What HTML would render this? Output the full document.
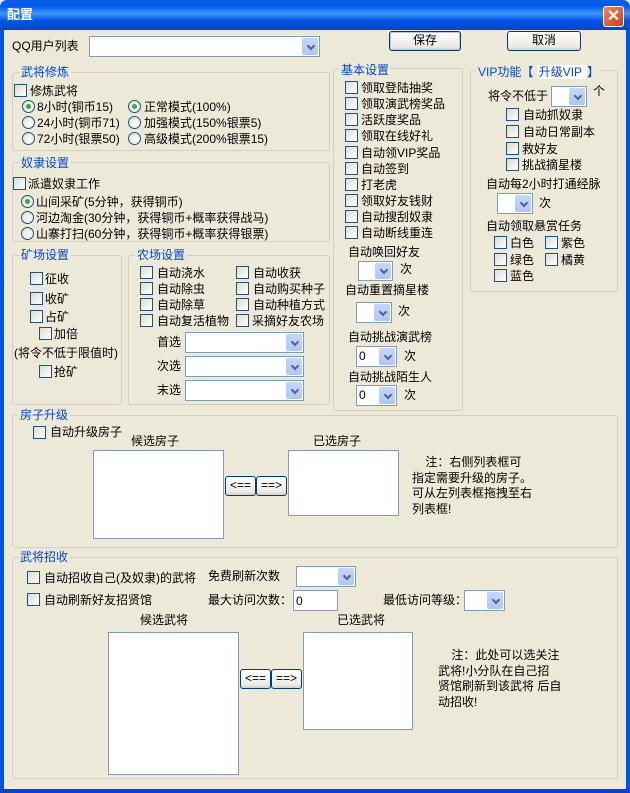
<!DOCTYPE html>
<html><head><meta charset="utf-8"><style>
*{margin:0;padding:0;box-sizing:border-box}
body{width:630px;height:793px;overflow:hidden;background:#ECE9D8;position:relative;font:12px "Liberation Sans","WenQuanYi Zen Hei","Noto Sans CJK SC",sans-serif;color:#000}
div,span{position:absolute}
.t{white-space:nowrap;line-height:14px}
.cb{width:13px;height:13px;border:1px solid #1c5180;background:linear-gradient(135deg,#dcdcd3,#fff)}
.rb{width:13px;height:13px;border:1px solid #1c5180;border-radius:50%;background:radial-gradient(circle at 60% 60%,#fff,#d8d8cf)}
.rb.on::after{content:"";position:absolute;left:3px;top:3px;width:5px;height:5px;border-radius:50%;background:#3ca63c}
.g{border:1px solid #d0d0bf;border-radius:3px}
.gl{background:#ECE9D8;color:#0046d5;padding:0 2px;line-height:14px;white-space:nowrap}
.co{background:#fff;border:1px solid #7f9db9}
.co::after{content:"";position:absolute;right:1px;top:1px;bottom:1px;width:16px;background:linear-gradient(#c6d6fc,#b0c6f6);border-radius:2px}
.co::before{content:"";position:absolute;right:5px;top:50%;margin-top:-4px;width:4px;height:4px;border-right:2px solid #4d6185;border-bottom:2px solid #4d6185;transform:rotate(45deg);z-index:2}
.lb{background:#fff;border:1px solid #7f9db9}
.bt{border:1px solid #003c74;border-radius:3px;background:linear-gradient(#fff,#ecebe6 80%,#d6d0c5);text-align:center;line-height:17px}
</style></head><body>
<!-- title bar -->
<div style="left:0;top:0;width:630px;height:30px;background:linear-gradient(#0a5fe0,#0058ee 20%,#3d95ff 45%,#0054e3 70%,#0046c8);border-radius:7px 7px 0 0"></div>
<div class="t" style="left:7px;top:8px;color:#fff;font-weight:bold;font-size:13px">配置</div>
<div style="left:603px;top:6px;width:21px;height:21px;border:1px solid #fff;border-radius:3px;background:linear-gradient(135deg,#e8876a,#d03f12);color:#fff;font-weight:bold;font-size:16px;text-align:center;line-height:19px">✕</div>
<div style="left:0;top:30px;width:4px;height:763px;background:#0055e5"></div>
<div style="left:626px;top:30px;width:4px;height:763px;background:#0055e5"></div>
<div style="left:0;top:789px;width:630px;height:4px;background:#0044cc"></div>

<div class="t" style="left:12px;top:39px">QQ用户列表</div>
<div class="co" style="left:89px;top:36px;width:231px;height:21px"></div>
<div class="bt" style="left:389px;top:31px;width:72px;height:20px;box-shadow:inset 0 0 0 1px #b5c9f0">保存</div>
<div class="bt" style="left:507px;top:31px;width:74px;height:20px">取消</div>

<!-- 武将修炼 -->
<div class="g" style="left:12px;top:72px;width:318px;height:79px"></div>
<div class="gl" style="left:19px;top:65px">武将修炼</div>
<div class="cb" style="left:14px;top:84px"></div><div class="t" style="left:30px;top:84px">修炼武将</div>
<div class="rb on" style="left:22px;top:100px"></div><div class="t" style="left:37px;top:100px">8小时(铜币15)</div>
<div class="rb" style="left:22px;top:116px"></div><div class="t" style="left:37px;top:116px">24小时(铜币71)</div>
<div class="rb" style="left:22px;top:132px"></div><div class="t" style="left:37px;top:132px">72小时(银票50)</div>
<div class="rb on" style="left:128px;top:100px"></div><div class="t" style="left:144px;top:100px">正常模式(100%)</div>
<div class="rb" style="left:128px;top:116px"></div><div class="t" style="left:144px;top:116px">加强模式(150%银票5)</div>
<div class="rb" style="left:128px;top:132px"></div><div class="t" style="left:144px;top:132px">高级模式(200%银票15)</div>

<!-- 奴隶设置 -->
<div class="g" style="left:12px;top:162px;width:318px;height:80px"></div>
<div class="gl" style="left:19px;top:156px">奴隶设置</div>
<div class="cb" style="left:13px;top:177px"></div><div class="t" style="left:28px;top:177px">派遣奴隶工作</div>
<div class="rb on" style="left:21px;top:195px"></div><div class="t" style="left:36px;top:195px">山间采矿(5分钟，获得铜币)</div>
<div class="rb" style="left:21px;top:211px"></div><div class="t" style="left:36px;top:211px">河边淘金(30分钟，获得铜币+概率获得战马)</div>
<div class="rb" style="left:21px;top:227px"></div><div class="t" style="left:36px;top:227px">山寨打扫(60分钟，获得铜币+概率获得银票)</div>

<!-- 矿场设置 -->
<div class="g" style="left:12px;top:255px;width:110px;height:150px"></div>
<div class="gl" style="left:19px;top:248px">矿场设置</div>
<div class="cb" style="left:30px;top:272px"></div><div class="t" style="left:45px;top:272px">征收</div>
<div class="cb" style="left:30px;top:292px"></div><div class="t" style="left:45px;top:292px">收矿</div>
<div class="cb" style="left:30px;top:310px"></div><div class="t" style="left:45px;top:310px">占矿</div>
<div class="cb" style="left:39px;top:327px"></div><div class="t" style="left:54px;top:327px">加倍</div>
<div class="t" style="left:14px;top:346px">(将令不低于限值时)</div>
<div class="cb" style="left:39px;top:365px"></div><div class="t" style="left:54px;top:365px">抢矿</div>

<!-- 农场设置 -->
<div class="g" style="left:128px;top:255px;width:202px;height:150px"></div>
<div class="gl" style="left:135px;top:248px">农场设置</div>
<div class="cb" style="left:140px;top:266px"></div><div class="t" style="left:157px;top:266px">自动浇水</div>
<div class="cb" style="left:140px;top:282px"></div><div class="t" style="left:157px;top:282px">自动除虫</div>
<div class="cb" style="left:140px;top:298px"></div><div class="t" style="left:157px;top:298px">自动除草</div>
<div class="cb" style="left:140px;top:314px"></div><div class="t" style="left:157px;top:314px">自动复活植物</div>
<div class="cb" style="left:236px;top:266px"></div><div class="t" style="left:253px;top:266px">自动收获</div>
<div class="cb" style="left:236px;top:282px"></div><div class="t" style="left:253px;top:282px">自动购买种子</div>
<div class="cb" style="left:236px;top:298px"></div><div class="t" style="left:253px;top:298px">自动种植方式</div>
<div class="cb" style="left:236px;top:314px"></div><div class="t" style="left:252px;top:314px">采摘好友农场</div>
<div class="t" style="left:157px;top:335px">首选</div><div class="co" style="left:185px;top:332px;width:119px;height:21px"></div>
<div class="t" style="left:157px;top:359px">次选</div><div class="co" style="left:185px;top:356px;width:119px;height:21px"></div>
<div class="t" style="left:157px;top:383px">末选</div><div class="co" style="left:185px;top:380px;width:119px;height:21px"></div>

<!-- 基本设置 -->
<div class="g" style="left:333px;top:68px;width:130px;height:343px"></div>
<div class="gl" style="left:339px;top:63px">基本设置</div>
<div class="cb" style="left:345px;top:81px"></div><div class="t" style="left:361px;top:81px">领取登陆抽奖</div>
<div class="cb" style="left:345px;top:97px"></div><div class="t" style="left:361px;top:97px">领取演武榜奖品</div>
<div class="cb" style="left:345px;top:113px"></div><div class="t" style="left:361px;top:113px">活跃度奖品</div>
<div class="cb" style="left:345px;top:129px"></div><div class="t" style="left:361px;top:129px">领取在线好礼</div>
<div class="cb" style="left:345px;top:146px"></div><div class="t" style="left:361px;top:146px">自动领VIP奖品</div>
<div class="cb" style="left:345px;top:162px"></div><div class="t" style="left:361px;top:162px">自动签到</div>
<div class="cb" style="left:345px;top:178px"></div><div class="t" style="left:361px;top:178px">打老虎</div>
<div class="cb" style="left:345px;top:194px"></div><div class="t" style="left:361px;top:194px">领取好友钱财</div>
<div class="cb" style="left:345px;top:210px"></div><div class="t" style="left:361px;top:210px">自动搜刮奴隶</div>
<div class="cb" style="left:345px;top:226px"></div><div class="t" style="left:361px;top:226px">自动断线重连</div>
<div class="t" style="left:348px;top:245px">自动唤回好友</div>
<div class="co" style="left:358px;top:261px;width:35px;height:20px"></div><div class="t" style="left:400px;top:262px">次</div>
<div class="t" style="left:345px;top:283px">自动重置摘星楼</div>
<div class="co" style="left:356px;top:302px;width:36px;height:21px"></div><div class="t" style="left:398px;top:304px">次</div>
<div class="t" style="left:348px;top:330px">自动挑战演武榜</div>
<div class="co" style="left:356px;top:346px;width:41px;height:21px"></div><div class="t" style="left:359px;top:349px">0</div><div class="t" style="left:404px;top:349px">次</div>
<div class="t" style="left:348px;top:370px">自动挑战陌生人</div>
<div class="co" style="left:356px;top:385px;width:41px;height:21px"></div><div class="t" style="left:359px;top:388px">0</div><div class="t" style="left:404px;top:388px">次</div>

<!-- VIP -->
<div class="g" style="left:470px;top:70px;width:148px;height:222px"></div>
<div class="gl" style="left:476px;top:65px">VIP功能【 <span style="position:static;background:#fff;padding:0 2px">升级VIP </span> 】</div>
<div class="t" style="left:488px;top:89px">将令不低于</div>
<div class="co" style="left:551px;top:86px;width:36px;height:21px"></div><div class="t" style="left:593px;top:84px">个</div>
<div class="cb" style="left:506px;top:108px"></div><div class="t" style="left:523px;top:108px">自动抓奴隶</div>
<div class="cb" style="left:506px;top:125px"></div><div class="t" style="left:523px;top:125px">自动日常副本</div>
<div class="cb" style="left:506px;top:142px"></div><div class="t" style="left:522px;top:142px">救好友</div>
<div class="cb" style="left:506px;top:158px"></div><div class="t" style="left:522px;top:158px">挑战摘星楼</div>
<div class="t" style="left:486px;top:177px">自动每2小时打通经脉</div>
<div class="co" style="left:497px;top:193px;width:36px;height:21px"></div><div class="t" style="left:539px;top:196px">次</div>
<div class="t" style="left:486px;top:219px">自动领取悬赏任务</div>
<div class="cb" style="left:494px;top:236px"></div><div class="t" style="left:510px;top:236px">白色</div>
<div class="cb" style="left:545px;top:236px"></div><div class="t" style="left:561px;top:236px">紫色</div>
<div class="cb" style="left:494px;top:253px"></div><div class="t" style="left:510px;top:253px">绿色</div>
<div class="cb" style="left:545px;top:253px"></div><div class="t" style="left:561px;top:253px">橘黄</div>
<div class="cb" style="left:494px;top:269px"></div><div class="t" style="left:510px;top:269px">蓝色</div>

<!-- 房子升级 -->
<div class="g" style="left:12px;top:415px;width:606px;height:133px"></div>
<div class="gl" style="left:18px;top:408px">房子升级</div>
<div class="cb" style="left:33px;top:426px"></div><div class="t" style="left:50px;top:425px">自动升级房子</div>
<div class="t" style="left:131px;top:434px">候选房子</div>
<div class="lb" style="left:93px;top:450px;width:131px;height:89px"></div>
<div class="bt" style="left:225px;top:476px;width:31px;height:20px">&lt;==</div>
<div class="bt" style="left:256px;top:476px;width:31px;height:20px">==&gt;</div>
<div class="t" style="left:313px;top:434px">已选房子</div>
<div class="lb" style="left:288px;top:450px;width:111px;height:66px"></div>
<div class="t" style="left:412px;top:455px;line-height:15.5px">&nbsp;&nbsp;&nbsp;&nbsp;注：右侧列表框可<br>指定需要升级的房子。<br>可从左列表框拖拽至右<br>列表框!</div>

<!-- 武将招收 -->
<div class="g" style="left:12px;top:557px;width:606px;height:222px"></div>
<div class="gl" style="left:18px;top:550px">武将招收</div>
<div class="cb" style="left:27px;top:571px"></div><div class="t" style="left:44px;top:571px">自动招收自己(及奴隶)的武将</div>
<div class="t" style="left:208px;top:569px">免费刷新次数</div>
<div class="co" style="left:296px;top:566px;width:60px;height:21px"></div>
<div class="cb" style="left:27px;top:593px"></div><div class="t" style="left:44px;top:593px">自动刷新好友招贤馆</div>
<div class="t" style="left:208px;top:593px">最大访问次数：</div>
<div class="lb" style="left:293px;top:590px;width:45px;height:21px"></div><div class="t" style="left:296px;top:594px">0</div>
<div class="t" style="left:383px;top:593px">最低访问等级：</div>
<div class="co" style="left:464px;top:590px;width:41px;height:21px"></div>
<div class="t" style="left:140px;top:613px">候选武将</div>
<div class="lb" style="left:108px;top:632px;width:131px;height:143px"></div>
<div class="bt" style="left:240px;top:669px;width:31px;height:20px">&lt;==</div>
<div class="bt" style="left:271px;top:669px;width:31px;height:20px">==&gt;</div>
<div class="t" style="left:337px;top:613px">已选武将</div>
<div class="lb" style="left:303px;top:632px;width:110px;height:98px"></div>
<div class="t" style="left:438px;top:648px;line-height:15.5px">&nbsp;&nbsp;&nbsp;&nbsp;注：此处可以选关注<br>武将!小分队在自己招<br>贤馆刷新到该武将 后自<br>动招收!</div>
</body></html>
